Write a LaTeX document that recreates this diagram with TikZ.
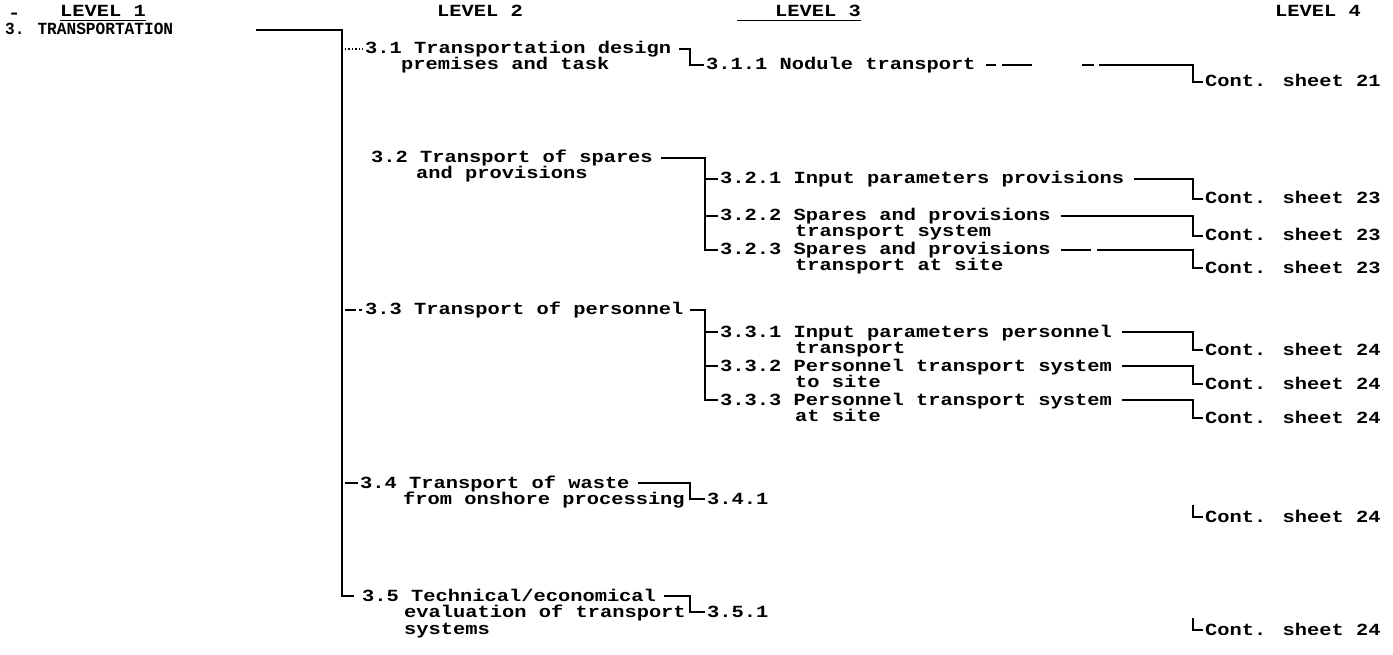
\documentclass[tikz,border=0pt]{standalone}
\usepackage{fontspec}
\newfontfamily\tw{Liberation Mono}[FakeStretch=1.2]
\newfontfamily\twh{Liberation Mono}[FakeStretch=0.95]
\tikzset{
  txt/.style={anchor=west, inner sep=0pt, text height=10pt, text depth=0pt,
              font=\tw\bfseries\fontsize{17}{17}\selectfont},
  hd/.style={txt, font=\twh\bfseries\fontsize{17}{17}\selectfont},
  ln/.style={line width=1.7pt},
  uline/.style={line width=1.2pt},
}
\begin{document}
\begin{tikzpicture}[x=1pt,y=-1pt]
\useasboundingbox (0,0) rectangle (1393,655);
% header
\node[txt] (hd0) at (8,14) {-};
\node[txt] (h1) at (60,12) {LEVEL 1};
\node[txt] (h2) at (437,12) {LEVEL 2};
\node[txt] (h3) at (775,12) {LEVEL 3};
\node[txt] (h4) at (1275,12) {LEVEL 4};
\coordinate (u3) at (737,0);
\draw[uline] ([yshift=-3pt]h1.south west) -- ([yshift=-3pt]h1.south east);
\draw[uline] ([yshift=-3pt]u3 |- h3.south) -- ([yshift=-3pt]h3.south east);
% level 1
\node[hd] (t3) at (5,30) {3. TRANSPORTATION};
\coordinate (s0) at (342,30);
\coordinate (s1) at (342,596);
% level 2
\node[txt] (n31) at (365,49) {3.1 Transportation design};
\node[txt] (n31b) at (401,65) {premises and task};
\node[txt] (n32) at (371,158) {3.2 Transport of spares};
\node[txt] (n32b) at (416,174) {and provisions};
\node[txt] (n33) at (365,310) {3.3 Transport of personnel};
\node[txt] (n34) at (360,483) {3.4 Transport of waste};
\node[txt] (n34b) at (403,499) {from onshore processing};
\node[txt] (n35) at (362,596) {3.5 Technical/economical};
\node[txt] (n35b) at (404,612) {evaluation of transport};
\node[txt] (n35c) at (404,629) {systems};
% level 3
\node[txt] (n311) at (706,65) {3.1.1 Nodule transport};
\node[txt] (n321) at (720,179) {3.2.1 Input parameters provisions};
\node[txt] (n322) at (720,216) {3.2.2 Spares and provisions};
\node[txt] (n322b) at (795,232) {transport system};
\node[txt] (n323) at (720,250) {3.2.3 Spares and provisions};
\node[txt] (n323b) at (795,266) {transport at site};
\node[txt] (n331) at (720,332) {3.3.1 Input parameters personnel};
\node[txt] (n331b) at (795,348) {transport};
\node[txt] (n332) at (720,366) {3.3.2 Personnel transport system};
\node[txt] (n332b) at (795,382) {to site};
\node[txt] (n333) at (720,400) {3.3.3 Personnel transport system};
\node[txt] (n333b) at (795,416) {at site};
\node[txt] (n341) at (707,499) {3.4.1};
\node[txt] (n351) at (707,612) {3.5.1};
% level 4
\node[txt] (c311) at (1205,82) {Cont. sheet 21};
\node[txt] (c321) at (1205,199) {Cont. sheet 23};
\node[txt] (c322) at (1205,236) {Cont. sheet 23};
\node[txt] (c323) at (1205,268) {Cont. sheet 23};
\node[txt] (c331) at (1205,350) {Cont. sheet 24};
\node[txt] (c332) at (1205,384) {Cont. sheet 24};
\node[txt] (c333) at (1205,418) {Cont. sheet 24};
\node[txt] (c341) at (1205,517) {Cont. sheet 24};
\node[txt] (c351) at (1205,630) {Cont. sheet 24};
% level 1 -> 2
\draw[ln] ([xshift=83pt]t3.east) -- (s0) -- (s1) -- ([xshift=-8pt]n35.west);
\draw[line width=1.4pt, dotted] ([xshift=3pt]s0 |- n31.west) -- ([xshift=-2pt]n31.west);
\draw[ln, dash pattern=on 11pt off 3pt on 3pt off 3pt] ([xshift=3pt]s0 |- n33.west) -- ([xshift=-2pt]n33.west);
\draw[ln] ([xshift=3pt]s0 |- n34.west) -- ([xshift=-2pt]n34.west);
% level 2 -> 3
\coordinate (b31) at (690,0);
\coordinate (b32) at (705,0);
\coordinate (b34) at (690,0);
\draw[ln] ([xshift=8pt]n31.east) -- (b31 |- n31.east) -- (b31 |- n311.west) -- ([xshift=-2pt]n311.west);
\draw[ln] ([xshift=8pt]n32.east) -- (b32 |- n32.east) -- (b32 |- n323.west) -- ([xshift=-2pt]n323.west);
\draw[ln] (b32 |- n321.west) -- ([xshift=-2pt]n321.west);
\draw[ln] (b32 |- n322.west) -- ([xshift=-2pt]n322.west);
\draw[ln] ([xshift=6pt]n33.east) -- (b32 |- n33.east) -- (b32 |- n333.west) -- ([xshift=-2pt]n333.west);
\draw[ln] (b32 |- n331.west) -- ([xshift=-2pt]n331.west);
\draw[ln] (b32 |- n332.west) -- ([xshift=-2pt]n332.west);
\draw[ln] ([xshift=8pt]n34.east) -- (b34 |- n34.east) -- (b34 |- n341.west) -- ([xshift=-2pt]n341.west);
\draw[ln] ([xshift=8pt]n35.east) -- (b34 |- n35.east) -- (b34 |- n351.west) -- ([xshift=-2pt]n351.west);
% level 3 -> 4
\coordinate (k4) at (1193,0);
\draw[ln, dash pattern=on 10pt off 6pt on 30pt off 50pt on 12pt off 5pt on 300pt] ([xshift=10pt]n311.east) -- (k4 |- n311.east) -- (k4 |- c311.west) -- ([xshift=-2pt]c311.west);
\foreach \n in {321,322,331,332,333}{
  \draw[ln] ([xshift=10pt]n\n.east) -- (k4 |- n\n.east) -- (k4 |- c\n.west) -- ([xshift=-2pt]c\n.west);
}
\draw[ln, dash pattern=on 30pt off 6pt on 200pt] ([xshift=10pt]n323.east) -- (k4 |- n323.east) -- (k4 |- c323.west) -- ([xshift=-2pt]c323.west);
\coordinate (c341t) at (1193,505);
\coordinate (c351t) at (1193,618);
\draw[ln] (c341t) -- (k4 |- c341.west) -- ([xshift=-2pt]c341.west);
\draw[ln] (c351t) -- (k4 |- c351.west) -- ([xshift=-2pt]c351.west);
\end{tikzpicture}
\end{document}
